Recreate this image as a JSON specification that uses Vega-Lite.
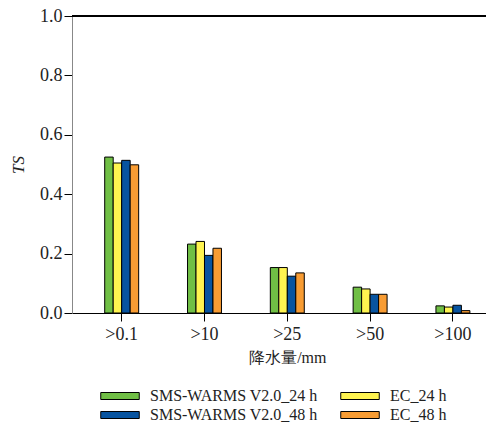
{
  "$schema": "https://vega.github.io/schema/vega-lite/v6.json",
  "width": 414,
  "height": 297,
  "autosize": {"type": "none"},
  "padding": {"left": 72, "top": 16, "right": 0, "bottom": 113},
  "config": {
    "view": {"stroke": null},
    "font": "Liberation Serif",
    "background": "white"
  },
  "data": {
    "values": [
      {"level": ">0.1", "model": "SMS-WARMS V2.0_24 h", "ts": 0.525},
      {"level": ">0.1", "model": "EC_24 h", "ts": 0.505},
      {"level": ">0.1", "model": "SMS-WARMS V2.0_48 h", "ts": 0.514},
      {"level": ">0.1", "model": "EC_48 h", "ts": 0.499},
      {"level": ">10", "model": "SMS-WARMS V2.0_24 h", "ts": 0.232},
      {"level": ">10", "model": "EC_24 h", "ts": 0.241},
      {"level": ">10", "model": "SMS-WARMS V2.0_48 h", "ts": 0.194},
      {"level": ">10", "model": "EC_48 h", "ts": 0.218},
      {"level": ">25", "model": "SMS-WARMS V2.0_24 h", "ts": 0.153},
      {"level": ">25", "model": "EC_24 h", "ts": 0.153},
      {"level": ">25", "model": "SMS-WARMS V2.0_48 h", "ts": 0.124},
      {"level": ">25", "model": "EC_48 h", "ts": 0.135},
      {"level": ">50", "model": "SMS-WARMS V2.0_24 h", "ts": 0.087},
      {"level": ">50", "model": "EC_24 h", "ts": 0.081},
      {"level": ">50", "model": "SMS-WARMS V2.0_48 h", "ts": 0.063},
      {"level": ">50", "model": "EC_48 h", "ts": 0.063},
      {"level": ">100", "model": "SMS-WARMS V2.0_24 h", "ts": 0.024},
      {"level": ">100", "model": "EC_24 h", "ts": 0.020},
      {"level": ">100", "model": "SMS-WARMS V2.0_48 h", "ts": 0.026},
      {"level": ">100", "model": "EC_48 h", "ts": 0.008}
    ]
  },
  "layer": [
    {
      "mark": {"type": "bar", "stroke": "black", "strokeWidth": 1},
      "encoding": {
        "x": {
          "field": "level",
          "type": "nominal",
          "sort": [">0.1", ">10", ">25", ">50", ">100"],
          "scale": {"range": [0, 430.6], "paddingInner": 0.59, "paddingOuter": 0.395},
          "axis": {
            "title": "降水量/mm",
            "titleFont": "Liberation Serif",
            "titleFontSize": 16,
            "titleFontWeight": "normal",
            "titleColor": "#222",
            "titlePadding": 6,
            "labelAngle": 0,
            "labelFont": "Liberation Serif",
            "labelFontSize": 18,
            "labelColor": "#222",
            "labelPadding": 4,
            "domainColor": "black",
            "tickColor": "black",
            "tickSize": 8
          }
        },
        "xOffset": {
          "field": "model",
          "sort": ["SMS-WARMS V2.0_24 h", "EC_24 h", "SMS-WARMS V2.0_48 h", "EC_48 h"]
        },
        "y": {
          "field": "ts",
          "type": "quantitative",
          "scale": {"domain": [0, 1]},
          "axis": {
            "title": "TS",
            "titleFont": "Liberation Serif",
            "titleFontStyle": "italic",
            "titleFontWeight": "normal",
            "titleFontSize": 17,
            "titleColor": "#222",
            "titlePadding": 12,
            "values": [0, 0.2, 0.4, 0.6, 0.8, 1.0],
            "format": ".1f",
            "labelFont": "Liberation Serif",
            "labelFontSize": 18,
            "labelColor": "#222",
            "labelPadding": 2,
            "domainColor": "#888",
            "tickColor": "black",
            "tickSize": 8,
            "grid": false
          }
        },
        "color": {
          "field": "model",
          "type": "nominal",
          "scale": {
            "domain": ["SMS-WARMS V2.0_24 h", "SMS-WARMS V2.0_48 h", "EC_24 h", "EC_48 h"],
            "range": ["#70bf45", "#0854a0", "#fff450", "#f89c33"]
          },
          "legend": {
            "title": null,
            "orient": "none",
            "legendX": 40,
            "legendY": 372,
            "columns": 2,
            "columnPadding": 20,
            "rowPadding": 3,
            "symbolType": "M-5.5,-1L5.5,-1L5.5,1L-5.5,1Z",
            "symbolSize": 49,
            "symbolStrokeColor": "black",
            "symbolStrokeWidth": 1,
            "symbolOpacity": 1,
            "labelFont": "Liberation Serif",
            "labelFontSize": 16,
            "labelLimit": 300,
            "labelColor": "#222",
            "labelOffset": 22
          }
        }
      }
    },
    {
      "mark": {"type": "rule", "color": "black", "strokeWidth": 1},
      "encoding": {"y": {"datum": 1}}
    }
  ]
}
